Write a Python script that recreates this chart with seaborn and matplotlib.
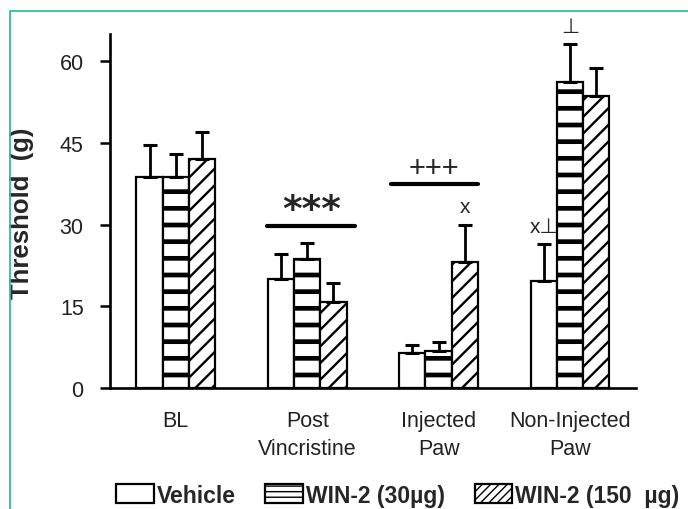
import numpy as np
import pandas as pd
import matplotlib
matplotlib.use("Agg")
import matplotlib.pyplot as plt
from matplotlib.patches import Patch, Rectangle
import seaborn as sns

# ---- data ----
groups = ["BL", "Post\nVincristine", "Injected\nPaw", "Non-Injected\nPaw"]
treatments = ["Vehicle", "WIN-2 (30\u00b5g)", "WIN-2 (150  \u00b5g)"]
vehicle_mean = [38.8, 20.1, 6.4, 19.6]
win30_mean = [38.8, 23.6, 6.8, 56.1]
win150_mean = [42.0, 15.7, 23.1, 53.6]
vehicle_sem = [5.8, 4.5, 1.5, 6.9]
win30_sem = [4.1, 3.1, 1.6, 7.1]
win150_sem = [5.1, 3.5, 6.9, 5.2]
y_ticks = [0, 15, 30, 45, 60]

# significance annotations: (text, group index, y)
sig_bars = [("***", 1, 29.7), ("+++", 2, 37.5)]
# small markers: (text, group, treatment index, y)
markers = [("x", 2, 2, 31.5), ("x\u22a5", 3, 0, 28.0), ("\u22a5", 3, 1, 64.6)]

means = [vehicle_mean, win30_mean, win150_mean]
sems = [vehicle_sem, win30_sem, win150_sem]

df = pd.DataFrame({
    "group": [g for t in treatments for g in groups],
    "treatment": [t for t in treatments for g in groups],
    "threshold": [v for m in means for v in m],
})

sns.set_style("ticks")
plt.rcParams["font.family"] = ["Liberation Sans", "DejaVu Sans"]
plt.rcParams["hatch.color"] = "black"

fig = plt.figure(figsize=(6.88, 5.10), dpi=100)
ax = fig.add_axes([0.160, 0.2373, 0.764, 0.694])

sns.barplot(data=df, x="group", y="threshold", hue="treatment",
            order=groups, hue_order=treatments,
            palette=["white"] * 3, edgecolor="black", linewidth=1.6,
            width=0.6, errorbar=None, legend=False, ax=ax)

hatches = ["", "-", "//"]
hatch_lw = [1.0, 3.4, 1.7]
for cont, h, hl in zip(ax.containers, hatches, hatch_lw):
    for p in cont:
        p.set_hatch(h)
        p.set_edgecolor("black")
        if hasattr(p, "set_hatch_linewidth"):
            p.set_hatch_linewidth(hl)

# error bars (upper only)
for cont, s in zip(ax.containers, sems):
    xs = [p.get_x() + p.get_width() / 2 for p in cont]
    ys = [p.get_height() for p in cont]
    ax.errorbar(xs, ys, yerr=[np.zeros(len(s)), s], fmt="none",
                ecolor="black", elinewidth=2.0, capsize=4.7, capthick=2.2,
                zorder=4)

# significance lines
for txt, gi, y in sig_bars:
    left = ax.containers[0][gi].get_x()
    right = ax.containers[2][gi].get_x() + ax.containers[2][gi].get_width()
    if txt == "***":
        x0, x1 = left - 0.005, right + 0.066
        ax.plot([x0, x1], [y, y], color="black", lw=3.0, solid_capstyle="round")
        ax.text((x0 + x1) / 2, y - 0.4, txt, ha="center", va="bottom",
                fontsize=27, fontweight="bold", family="DejaVu Sans")
    else:
        x0, x1 = left - 0.066, right
        ax.plot([x0, x1], [y, y], color="black", lw=3.0, solid_capstyle="round")
        ax.text((x0 + x1) / 2, y + 0.3, txt, ha="center", va="bottom",
                fontsize=21)

for txt, gi, ti, y in markers:
    p = ax.containers[ti][gi]
    xc = p.get_x() + p.get_width() / 2
    ax.text(xc, y, txt, ha="center", va="bottom", fontsize=15,
            family=["Liberation Sans", "DejaVu Sans"], clip_on=False)

ax.set_xlim(-0.5, 3.5)
ax.set_ylim(0, 65)
ax.set_yticks(y_ticks)
ax.set_xlabel("")
ax.set_ylabel("Threshold  (g)", fontsize=18.5, fontweight="bold")
ax.yaxis.set_label_coords(-0.144, 0.496)

sns.despine(ax=ax)
for s in ["left", "bottom"]:
    ax.spines[s].set_linewidth(1.9)
    ax.spines[s].set_color("black")
ax.tick_params(axis="y", length=7, width=1.8, pad=12, labelsize=15.5,
               colors="black", labelcolor="#222222")
ax.tick_params(axis="x", length=0, pad=16, labelsize=15.5, labelcolor="#222222")
for lab in ax.get_xticklabels():
    lab.set_linespacing(1.45)
    lab.set_va("top")

handles = [Patch(facecolor="white", edgecolor="black", hatch=h, linewidth=1.6)
           for h in ["", "---", "////"]]
for hp, hl in zip(handles, [1.0, 1.8, 1.5]):
    if hasattr(hp, "set_hatch_linewidth"):
        hp.set_hatch_linewidth(hl)
leg = fig.legend(handles, treatments, loc="center", bbox_to_anchor=(0.578, 0.027),
                 ncol=3, frameon=False, prop={"size": 16.5, "weight": "bold"},
                 handlelength=1.65, handleheight=0.9, handletextpad=0.12,
                 columnspacing=1.3, borderpad=0.1)

# teal frame around figure
fig.patches.append(Rectangle((10 / 688, -0.05), 1.2, 1 - 12 / 510 + 0.05,
                             transform=fig.transFigure, fill=False,
                             edgecolor="#2dbfa3", linewidth=1.3))

fig.savefig("out.png", dpi=100)
